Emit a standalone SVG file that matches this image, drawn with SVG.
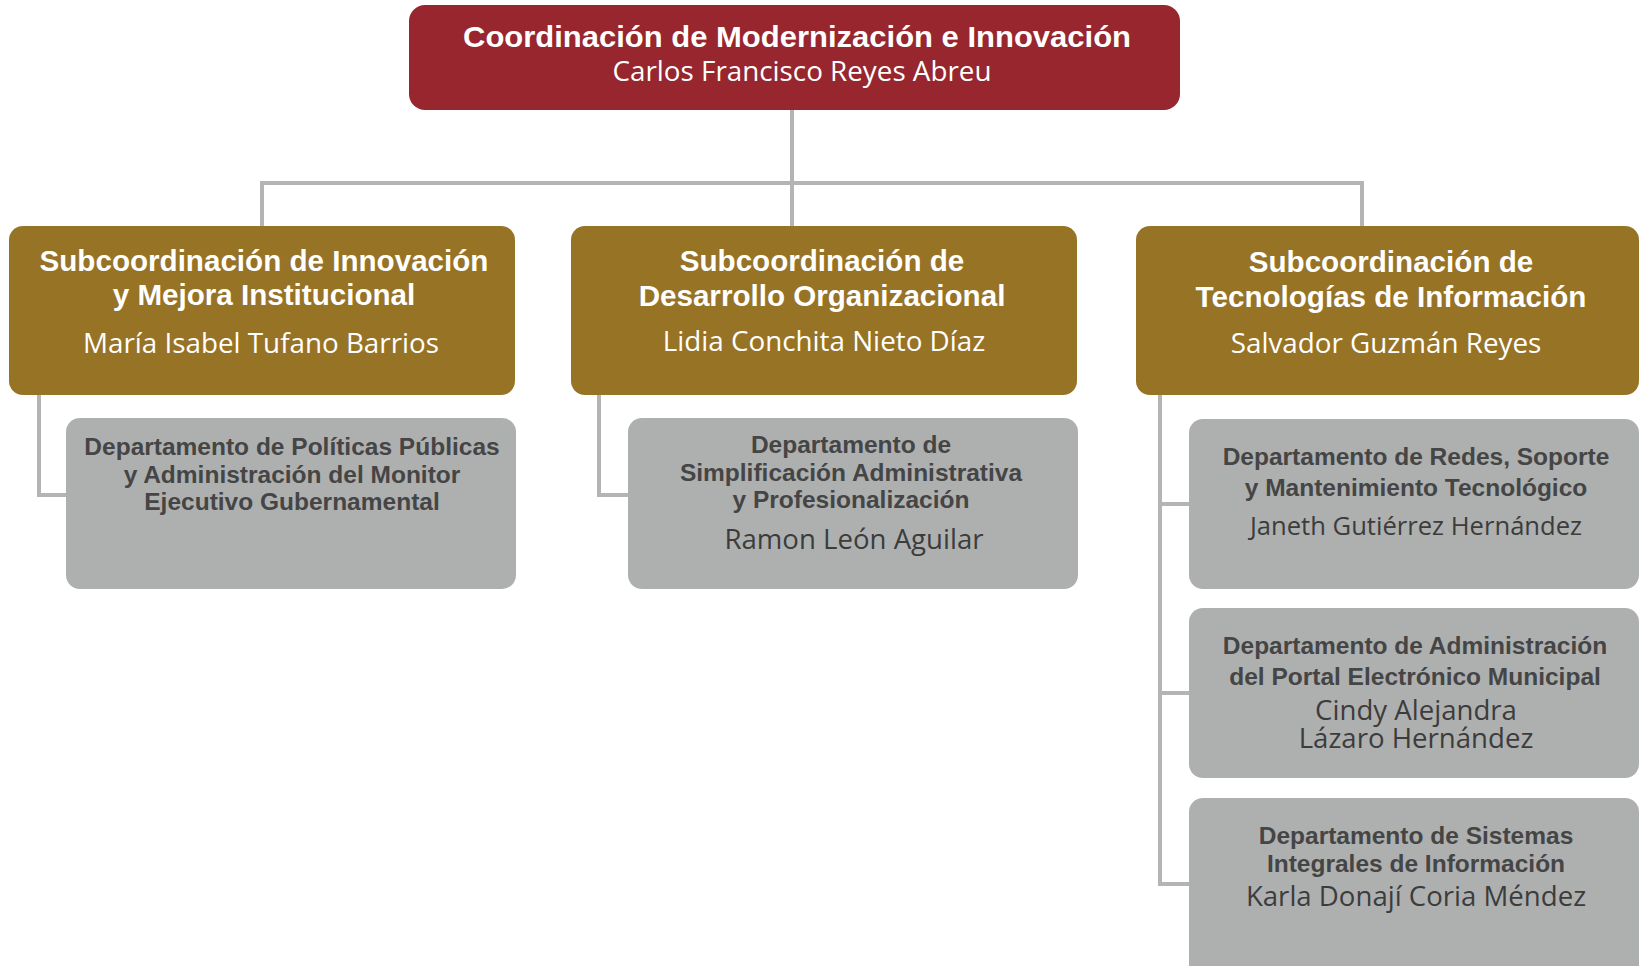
<svg xmlns="http://www.w3.org/2000/svg" width="1646" height="966" viewBox="0 0 1646 966">
<style>
.top{fill:#97262e}
.sub{fill:#977326}
.dep{fill:#aeb0b0}
.ln{fill:none;stroke:#b4b4b4;stroke-width:4}
.t1{font-family:"Liberation Sans",Arial,sans-serif;font-weight:bold;fill:#ffffff;text-anchor:middle;font-size:29.6px}
.n1{font-family:"Open Sans","Noto Sans",sans-serif;fill:#ffffff;text-anchor:middle;font-size:27.8px}
.t2{font-family:"Liberation Sans",Arial,sans-serif;font-weight:bold;fill:#454545;text-anchor:middle;font-size:24.5px}
.n2{font-family:"Open Sans","Noto Sans",sans-serif;fill:#3c3c3c;text-anchor:middle;font-size:27.6px}
</style>
<rect width="1646" height="966" fill="#ffffff"/>
<g id="connectors">
<path class="ln" d="M792 110 V226 M262 226 V183 H1362 V226"/>
<path class="ln" d="M39 395 V495 H66"/>
<path class="ln" d="M599 395 V495 H628"/>
<path class="ln" d="M1160 395 V884 H1189 M1160 504 H1189 M1160 693 H1189"/>
</g>
<g id="coord">
<rect class="top" x="409" y="5" width="771" height="105" rx="16"/>
<text class="t1" x="797" y="47" textLength="668" lengthAdjust="spacingAndGlyphs">Coordinación de Modernización e Innovación</text>
<text class="n1" x="802" y="81">Carlos Francisco Reyes Abreu</text>
</g>
<g id="sub1">
<rect class="sub" x="9" y="226" width="506" height="169" rx="14"/>
<text class="t1" x="264" y="271">Subcoordinación de Innovación</text>
<text class="t1" x="264" y="305">y Mejora Institucional</text>
<text class="n1" x="261" y="353">María Isabel Tufano Barrios</text>
</g>
<g id="sub2">
<rect class="sub" x="571" y="226" width="506" height="169" rx="14"/>
<text class="t1" x="822" y="271">Subcoordinación de</text>
<text class="t1" x="822" y="306">Desarrollo Organizacional</text>
<text class="n1" x="824" y="351">Lidia Conchita Nieto Díaz</text>
</g>
<g id="sub3">
<rect class="sub" x="1136" y="226" width="503" height="169" rx="14"/>
<text class="t1" x="1391" y="272">Subcoordinación de</text>
<text class="t1" x="1391" y="307">Tecnologías de Información</text>
<text class="n1" x="1386" y="353">Salvador Guzmán Reyes</text>
</g>
<g id="dep1">
<rect class="dep" x="66" y="418" width="450" height="171" rx="14"/>
<text class="t2" x="292" y="455">Departamento de Políticas Públicas</text>
<text class="t2" x="292" y="483">y Administración del Monitor</text>
<text class="t2" x="292" y="510">Ejecutivo Gubernamental</text>
</g>
<g id="dep2">
<rect class="dep" x="628" y="418" width="450" height="171" rx="14"/>
<text class="t2" x="851" y="453">Departamento de</text>
<text class="t2" x="851" y="481">Simplificación Administrativa</text>
<text class="t2" x="851" y="508">y Profesionalización</text>
<text class="n2" x="854" y="549">Ramon León Aguilar</text>
</g>
<g id="dep3">
<rect class="dep" x="1189" y="419" width="450" height="170" rx="14"/>
<text class="t2" x="1416" y="465">Departamento de Redes, Soporte</text>
<text class="t2" x="1416" y="496">y Mantenimiento Tecnológico</text>
<text class="n2" x="1416" y="535" style="font-size:25.6px">Janeth Gutiérrez Hernández</text>
</g>
<g id="dep4">
<rect class="dep" x="1189" y="608" width="450" height="170" rx="14"/>
<text class="t2" x="1415" y="654">Departamento de Administración</text>
<text class="t2" x="1415" y="685">del Portal Electrónico Municipal</text>
<text class="n2"><tspan x="1416" y="720">Cindy Alejandra</tspan><tspan x="1416" y="748">Lázaro Hernández</tspan></text>
</g>
<g id="dep5">
<rect class="dep" x="1189" y="798" width="450" height="190" rx="14"/>
<text class="t2" x="1416" y="844">Departamento de Sistemas</text>
<text class="t2" x="1416" y="872">Integrales de Información</text>
<text class="n2" x="1416" y="906">Karla Donají Coria Méndez</text>
</g>
</svg>
